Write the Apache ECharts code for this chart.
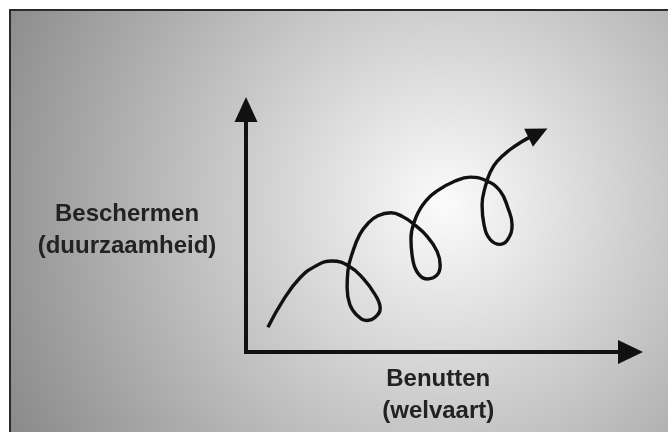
<!DOCTYPE html>
<html>
<head>
<meta charset="utf-8">
<script src="https://cdn.jsdelivr.net/npm/echarts@6/dist/echarts.min.js"></script>
<style>
  html, body { margin: 0; padding: 0; background: #ffffff; }
  #frame { position: absolute; left: 9px; top: 9px; width: 659px; height: 423px;
           border-left: 2px solid #2b2b2b; border-top: 2px solid #2b2b2b; box-sizing: border-box; }
  #chart { position: absolute; left: 11px; top: 11px; width: 657px; height: 421px; }
</style>
</head>
<body>
<div id="frame"></div>
<div id="chart"></div>
<script>
// Axis titles
const xAxisName = "Benutten\n(welvaart)";
const yAxisName = "Beschermen\n(duurzaamheid)";
// Axis ranges (abstract scale)
const xRange = [0, 100];
const yRange = [0, 100];
// Spiral path, in axis units (x, y)
const spiralX = [5.7, 9.6, 14.0, 18.5, 22.4, 26.8, 30.4, 33.6, 34.9, 33.6, 31.5, 28.9, 27.0, 26.3, 26.5,
  27.8, 29.6, 31.7, 34.3, 37.7, 40.8, 43.4, 47.1, 49.7, 50.5, 49.7, 47.1, 44.5, 43.2, 42.9, 43.7,
  46.0, 49.7, 54.4, 58.3, 62.7, 66.1, 68.1, 69.2, 68.1, 66.1, 63.5, 61.9, 61.4, 62.2, 63.5, 65.3,
  68.7, 71.8, 73.6];
const spiralY = [10.2, 21.2, 30.5, 35.8, 37.5, 35.4, 30.5, 23.6, 17.9, 14.3, 13.0, 15.1, 19.6, 26.5, 33.4,
  41.5, 48.5, 53.0, 56.2, 57.4, 55.8, 53.0, 47.7, 41.5, 35.8, 31.8, 30.1, 33.0, 39.9, 46.8, 53.4,
  60.7, 66.4, 70.5, 72.1, 70.5, 66.4, 59.5, 52.5, 46.4, 44.4, 46.4, 52.5, 60.7, 68.0, 74.1, 78.6,
  83.5, 86.8, 88.4];

const curve = spiralX.map((x, i) => [x, spiralY[i]]);
const chart = echarts.init(document.getElementById('chart'), null, { renderer: 'canvas' });

const axisLineStyle = { color: '#111111', width: 4, cap: 'square' };
const nameFont = { fontFamily: '"Liberation Sans", Arial, sans-serif', fontWeight: 'bold',
                   fontSize: 24, lineHeight: 32, color: '#222222' };

chart.setOption({
  backgroundColor: {
    type: 'radial', x: 0.66, y: 0.46, r: 1.14,
    colorStops: [
      { offset: 0, color: '#fbfbfb' },
      { offset: 1, color: '#8c8c8c' }
    ]
  },
  animation: false,
  grid: { left: 235, top: 98.5, right: 37.5, bottom: 77, containLabel: false },
  xAxis: {
    type: 'value', min: xRange[0], max: xRange[1],
    name: xAxisName, nameLocation: 'middle', nameGap: 11,
    nameTextStyle: Object.assign({ align: 'center', verticalAlign: 'top' }, nameFont),
    axisLine: { show: true, onZero: false, symbol: ['none', 'triangle'], symbolSize: [24, 25], lineStyle: axisLineStyle },
    axisTick: { show: false }, axisLabel: { show: false }, splitLine: { show: false }
  },
  yAxis: {
    type: 'value', min: yRange[0], max: yRange[1],
    name: yAxisName, nameLocation: 'middle', nameGap: 119, nameRotate: 0,
    nameTextStyle: Object.assign({ align: 'center', verticalAlign: 'middle', padding: [0, 0, 10, 0] }, nameFont),
    axisLine: { show: true, onZero: false, symbol: ['none', 'triangle'], symbolSize: [23, 25], lineStyle: axisLineStyle },
    axisTick: { show: false }, axisLabel: { show: false }, splitLine: { show: false }
  },
  series: [
    {
      type: 'line', data: curve, smooth: 0.45, symbol: 'none',
      lineStyle: { color: '#111111', width: 3.4 }, z: 3
    },
    {
      type: 'scatter', data: [curve[curve.length - 1]],
      symbol: 'triangle', symbolSize: [20, 21], symbolRotate: -64, symbolOffset: [9, -4.5],
      itemStyle: { color: '#111111', opacity: 1 }, z: 4
    }
  ]
});
</script>
</body>
</html>
